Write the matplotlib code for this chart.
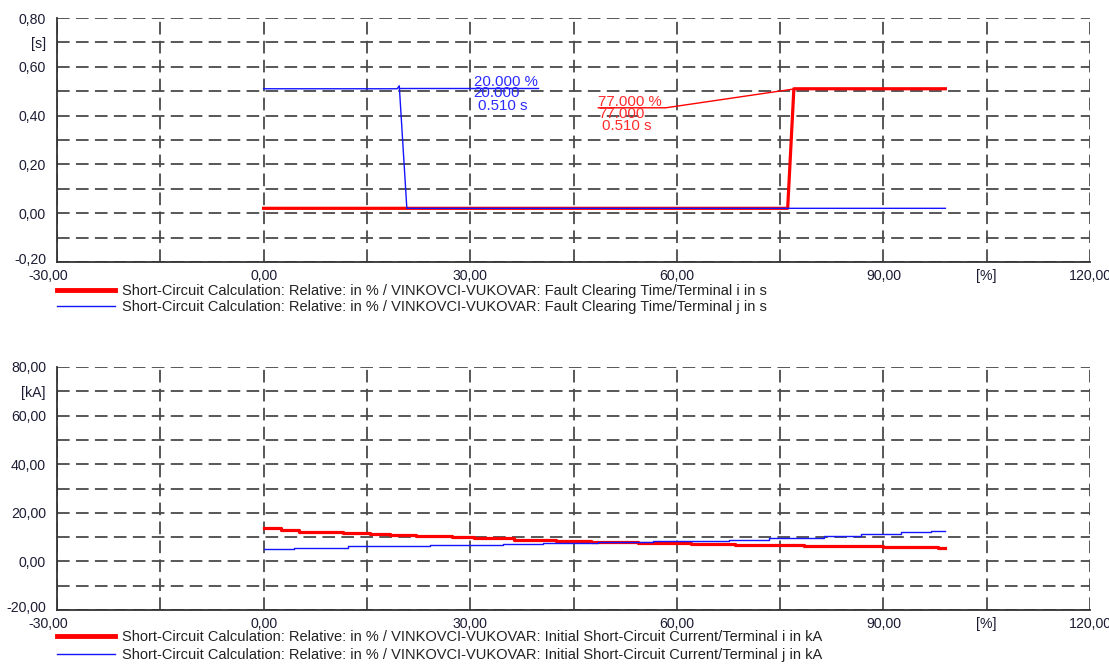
import numpy as np
import matplotlib
matplotlib.use('Agg')
import matplotlib.pyplot as plt
from matplotlib.ticker import FixedLocator
import matplotlib.transforms as mtrans

plt.rcParams['font.family'] = ['Liberation Sans', 'DejaVu Sans']
plt.rcParams['font.size'] = 10

# --- data: fault clearing time [s] vs fault location [%]
fct_i_x = [0.0, 76.1, 77.0, 99.0]
fct_i_y = [0.02, 0.02, 0.51, 0.51]
fct_j_x = [0.0, 19.4, 19.7, 20.8, 99.0]
fct_j_y = [0.51, 0.51, 0.522, 0.02, 0.02]

# --- data: initial short-circuit current [kA] vs fault location [%]
ikss_i_x = [0.0, 2.5, 5.1, 8.3, 11.5, 15.5, 18.4, 22.1, 27.4, 30.5, 36.3, 42.4,
            47.5, 54.3, 62.0, 68.5, 78.4, 90.0, 98.0, 99.0]
ikss_i_y = [13.7, 13.0, 12.3, 11.9, 11.5, 11.2, 10.8, 10.4, 9.9, 9.5, 8.9, 8.5,
            8.1, 7.7, 7.3, 6.9, 6.3, 5.9, 5.5, 5.5]
ikss_j_x = [0.0, 4.4, 12.3, 24.2, 34.7, 40.6, 48.5, 56.5, 61.7, 67.6, 73.4,
            81.4, 86.7, 92.5, 96.9, 99.0]
ikss_j_y = [5.1, 5.6, 6.2, 6.7, 7.1, 7.5, 7.9, 8.3, 8.6, 9.0, 9.7,
            10.6, 11.2, 11.9, 12.6, 12.6]

lbl_top_i = 'Short-Circuit Calculation: Relative: in % / VINKOVCI-VUKOVAR: Fault Clearing Time/Terminal i in s'
lbl_top_j = 'Short-Circuit Calculation: Relative: in % / VINKOVCI-VUKOVAR: Fault Clearing Time/Terminal j in s'
lbl_bot_i = 'Short-Circuit Calculation: Relative: in % / VINKOVCI-VUKOVAR: Initial Short-Circuit Current/Terminal i in kA'
lbl_bot_j = 'Short-Circuit Calculation: Relative: in % / VINKOVCI-VUKOVAR: Initial Short-Circuit Current/Terminal j in kA'

x_ticks = [-30, -15, 0, 15, 30, 45, 60, 75, 90, 105, 120]
x_labels = ['-30,00', '', '0,00', '', '30,00', '', '60,00', '', '90,00', '[%]', '120,00']
top_yticks = [-0.2, -0.1, 0.0, 0.1, 0.2, 0.3, 0.4, 0.5, 0.6, 0.7, 0.8]
top_ylabels = ['-0,20', '', '0,00', '', '0,20', '', '0,40', '', '0,60', '[s]', '0,80']
bot_yticks = [-20, -10, 0, 10, 20, 30, 40, 50, 60, 70, 80]
bot_ylabels = ['-20,00', '', '0,00', '', '20,00', '', '40,00', '', '60,00', '[kA]', '80,00']

# cursor annotations (anchor point, text position)
ann_j = dict(pt=(19.6, 0.514), end=39.8, text=(30.5, 0.521), pct='20.000 %', val='20.000', t='0.510 s')
ann_i = dict(pt=(77.0, 0.509), knee=(58.4, 0.432), start=48.6, text=(48.6, 0.439), pct='77.000 %', val='77.000', t='0.510 s')

RED = '#ff0000'
BLUE = '#1414ff'
GRID = '#4a4a4a'

fig = plt.figure(figsize=(11.09, 6.66), dpi=100)
ax1 = fig.add_axes([57/1109, 1-262/666, (1090-57)/1109, 244/666])
ax2 = fig.add_axes([57/1109, 1-610/666, (1090-57)/1109, 243/666])


def style(ax, yt, yl, ylim):
    ax.set_xlim(-30, 120)
    ax.set_ylim(*ylim)
    ax.xaxis.set_major_locator(FixedLocator(x_ticks))
    ax.set_xticklabels(x_labels)
    ax.yaxis.set_major_locator(FixedLocator(yt))
    ax.set_yticklabels(yl)
    ax.grid(True, color=GRID, lw=1.3, linestyle=(0, (7, 3.5)))
    for s in ['top', 'right']:
        ax.spines[s].set_visible(False)
    for s in ['left', 'bottom']:
        ax.spines[s].set_color('#333333')
        ax.spines[s].set_linewidth(1.3)
    ax.tick_params(axis='both', length=0, labelcolor='#1c1c34', labelsize=10.2)
    ax.tick_params(axis='y', pad=8)
    ax.tick_params(axis='x', pad=5)
    ax.set_axisbelow(True)
    # shift first labels a bit, like the original
    lab = ax.get_xticklabels()[0]
    lab.set_transform(lab.get_transform() + mtrans.ScaledTranslation(-9/100, 0, fig.dpi_scale_trans))
    lab = ax.get_yticklabels()[0]
    lab.set_transform(lab.get_transform() + mtrans.ScaledTranslation(0, 3/100, fig.dpi_scale_trans))


style(ax1, top_yticks, top_ylabels, (-0.2, 0.8))
style(ax2, bot_yticks, bot_ylabels, (-20, 80))

l1, = ax1.plot(fct_i_x, fct_i_y, color=RED, lw=2.3, label=lbl_top_i)
l2, = ax1.plot(fct_j_x, fct_j_y, color=BLUE, lw=1.0, label=lbl_top_j)

# annotation for terminal j
ax1.plot([ann_j['pt'][0], ann_j['end']], [ann_j['pt'][1], ann_j['pt'][1]], color=BLUE, lw=1.0)
tx, ty = ann_j['text']
ax1.text(tx, ty, ann_j['pct'], color='#2a2aff', va='baseline', ha='left', fontsize=10.8)
ax1.text(tx, ty - 0.045, ann_j['val'], color='#2a2aff', va='baseline', ha='left', fontsize=10.8)
ax1.text(tx + 0.6, ty - 0.098, ann_j['t'], color='#2a2aff', va='baseline', ha='left', fontsize=10.8)

# annotation for terminal i
ax1.plot([ann_i['start'], ann_i['knee'][0], ann_i['pt'][0]],
         [ann_i['knee'][1], ann_i['knee'][1], ann_i['pt'][1]], color=RED, lw=1.0)
tx, ty = ann_i['text']
ax1.text(tx, ty, ann_i['pct'], color='#ff2a2a', va='baseline', ha='left', fontsize=10.8)
ax1.text(tx, ty - 0.049, ann_i['val'], color='#ff2a2a', va='baseline', ha='left', fontsize=10.8)
ax1.text(tx + 0.6, ty - 0.098, ann_i['t'], color='#ff2a2a', va='baseline', ha='left', fontsize=10.8)

l3, = ax2.plot(ikss_i_x, ikss_i_y, color=RED, lw=2.3, drawstyle='steps-post', label=lbl_bot_i)
l4, = ax2.plot(ikss_j_x, ikss_j_y, color=BLUE, lw=1.0, drawstyle='steps-post', label=lbl_bot_j)

leg_kw = dict(loc='upper left', frameon=False, handlelength=4.0, handletextpad=0.48,
              borderpad=0, borderaxespad=0, fontsize=10.5,
              bbox_transform=fig.transFigure)
lg1 = fig.legend(handles=[l1, l2], bbox_to_anchor=(57/1109, 1-284/666), labelspacing=0.12, **leg_kw)
lg2 = fig.legend(handles=[l3, l4], bbox_to_anchor=(57/1109, 1-630/666), labelspacing=0.3, **leg_kw)
for lg in (lg1, lg2):
    lg.get_lines()[0].set_linewidth(3.5)
    for t in lg.get_texts():
        t.set_color('#222222')

plt.savefig('out.png', dpi=100)
plt.close()
